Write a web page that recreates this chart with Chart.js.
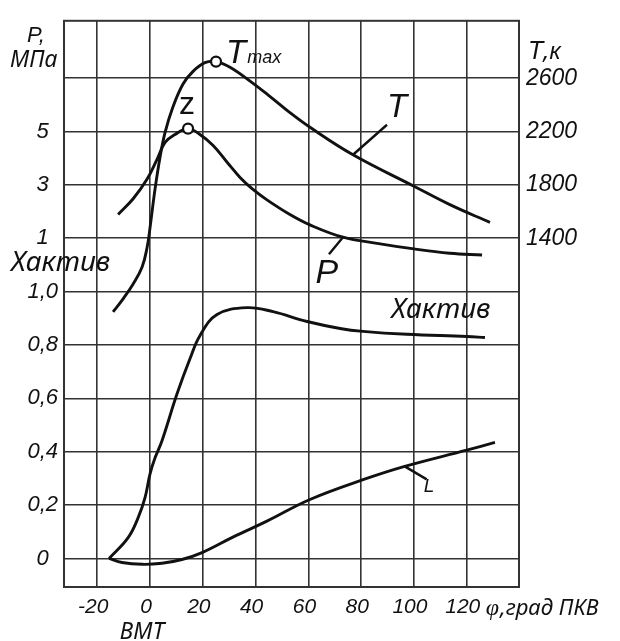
<!doctype html>
<html>

<head>
  <meta charset="utf-8">
  <title>Давление, температура и тепловыделение</title>
  <script src="https://cdn.jsdelivr.net/npm/chart.js"></script>
  <style>
    html, body { margin: 0; padding: 0; background: #fff; }
    canvas { display: block; }
  </style>
</head>

<body>
<canvas id="chart" width="620" height="641"></canvas>
<script>
    // угол поворота коленвала, град ПКВ
    const tAngle = [-14, -10.2, -6.4, -3, -1.1, 0, 1.9, 3.8, 5.7, 8.5, 12.5, 16.3, 20.8, 25, 30.3, 37.9, 45.5, 53, 60.6, 76.9, 100, 113.6, 128.8];
    const tKelvin = [849, 946, 1057, 1184, 1333, 1480, 1770, 2010, 2193, 2375, 2556, 2651, 2716, 2724, 2682, 2578, 2462, 2342, 2232, 2026, 1790, 1652, 1519];

    const pAngle = [-12.1, -6.4, -1.1, 2.65, 5.7, 9.5, 14.4, 18.9, 23.9, 29.2, 34.1, 39, 44.3, 53, 60.6, 73.1, 86, 100, 113.6, 125.8];
    const pMPa = [1.89, 2.48, 3.22, 3.96, 4.59, 4.89, 5.11, 4.89, 4.48, 3.85, 3.28, 2.83, 2.44, 1.89, 1.5, 1.04, 0.81, 0.6, 0.44, 0.37];

    const xAngle = [-15.5, -8.3, -4.5, -1.9, 0, 1.9, 4.5, 10.2, 15.2, 18.9, 25.4, 36.7, 46.6, 59.5, 72, 80.7, 97.3, 120, 126.9];
    const xFrac = [0, 0.078, 0.153, 0.228, 0.317, 0.377, 0.44, 0.616, 0.75, 0.835, 0.914, 0.94, 0.925, 0.888, 0.862, 0.851, 0.84, 0.832, 0.828];

    const lAngle = [-15.5, -10.6, -3, 4.5, 12.1, 19.7, 31.4, 44.3, 60.6, 80.7, 96.5, 120, 130.7];
    const lFrac = [0, -0.015, -0.022, -0.018, -0.004, 0.022, 0.08, 0.14, 0.221, 0.295, 0.345, 0.406, 0.435];

    const angleTicks = [-20, 0, 20, 40, 60, 80, 100, 120];
    const xaktivTicks = [0, 0.2, 0.4, 0.6, 0.8, 1.0];
    const pTicks = [1, 3, 5];
    const tTicks = [1400, 1800, 2200, 2600];

    // P и T выше доли Хактив на общей сетке: 1 МПа и 1400 К на уровне 1,2
    const xToP = x => 1 + (x - 1.2) * 10;
    const xToT = x => 1400 + (x - 1.2) * 2000;
    const tToX = t => 1.2 + (t - 1400) / 2000;

    const yMin = -0.107, yMax = 2.015;

    const ink = '#111';
    const gridColor = '#333';
    const NUM = '"Liberation Sans", Arial, sans-serif';
    const CYR = '"Noto Sans", "Open Sans", sans-serif';

    const pts = (xs, ys) => xs.map((x, i) => ({ x: x, y: ys[i] }));
    const tMaxIdx = tKelvin.indexOf(Math.max(...tKelvin));
    const pMaxIdx = pMPa.indexOf(Math.max(...pMPa));

    const curve = {
        borderColor: ink,
        borderWidth: 2.9,
        tension: 0.4,
        pointRadius: 0,
        pointBackgroundColor: '#fff',
        pointBorderColor: ink,
        pointBorderWidth: 2.2
    };

    // выноски: от точки кривой на dx, dy пикселей
    const leaders = [
        { dataset: 0, index: tAngle.indexOf(76.9), dx: 34, dy: -30 },
        { dataset: 1, index: pAngle.indexOf(73.1), dx: -14, dy: 17 },
        { dataset: 3, index: lAngle.indexOf(96.5), dx: 22, dy: 13 }
    ];

    const notes = [
        { text: 'T', x: 93.6, y: 2376, axis: 'yT', font: `italic 33px ${NUM}` },
        { text: 'P', x: 67, y: -0.33, axis: 'yP', font: `italic 34px ${NUM}` },
        { text: 'L', x: 105.7, y: 0.27, axis: 'y', font: `italic 19px ${NUM}` },
        { text: 'Хактив', x: 110.2, y: 0.93, axis: 'y', font: `italic 28px ${CYR}` }
    ];

    const frame = {
        id: 'frame',
        beforeDatasetsDraw(chart) {
            const { ctx, chartArea: a } = chart;
            ctx.save();
            ctx.strokeStyle = gridColor;
            ctx.lineWidth = 2;
            ctx.strokeRect(a.left, a.top, a.right - a.left, a.bottom - a.top);
            ctx.restore();
        }
    };

    const annotations = {
        id: 'annotations',
        afterDatasetsDraw(chart) {
            const ctx = chart.ctx;
            ctx.save();
            ctx.strokeStyle = ink;
            ctx.lineWidth = 2.4;
            leaders.forEach(l => {
                const pt = chart.getDatasetMeta(l.dataset).data[l.index];
                ctx.beginPath();
                ctx.moveTo(pt.x, pt.y);
                ctx.lineTo(pt.x + l.dx, pt.y + l.dy);
                ctx.stroke();
            });
            ctx.restore();
        },
        afterDraw(chart) {
            const { ctx, chartArea: a, scales } = chart;
            ctx.save();
            ctx.fillStyle = ink;
            ctx.textAlign = 'center';
            ctx.textBaseline = 'middle';
            notes.forEach(n => {
                ctx.font = n.font;
                ctx.fillText(n.text, scales.x.getPixelForValue(n.x), scales[n.axis].getPixelForValue(n.y));
            });

            // Tmax и z у отмеченных точек
            ctx.textBaseline = 'alphabetic';
            const tm = chart.getDatasetMeta(0).data[tMaxIdx];
            ctx.textAlign = 'left';
            ctx.font = `italic 33px ${NUM}`;
            ctx.fillText('T', tm.x + 10, tm.y + 1);
            const tw = ctx.measureText('T').width;
            ctx.font = `italic 18px ${NUM}`;
            ctx.fillText('max', tm.x + 10 + tw + 1, tm.y + 1);

            const zp = chart.getDatasetMeta(1).data[pMaxIdx];
            ctx.textAlign = 'center';
            ctx.font = `32px ${NUM}`;
            ctx.fillText('z', zp.x - 1, zp.y - 15);

            // подписи осей
            ctx.textAlign = 'left';
            ctx.font = `italic 22px ${NUM}`;
            ctx.fillText('P,', a.left - 37, a.top + 21);
            ctx.font = `italic 23px ${CYR}`;
            ctx.fillText('МПа', a.left - 54, a.top + 46);

            ctx.font = `italic 25px ${NUM}`;
            ctx.fillText('T', a.right + 9, a.top + 38);
            const tkw = ctx.measureText('T').width;
            ctx.font = `italic 23px ${CYR}`;
            ctx.fillText(',к', a.right + 9 + tkw, a.top + 38);

            ctx.font = `italic 28px ${CYR}`;
            ctx.fillText('Хактив', a.left - 53, scales.y.getPixelForValue(1.11) + 9);

            ctx.textAlign = 'center';
            ctx.font = `italic 23px ${CYR}`;
            ctx.fillText('ВМТ', scales.x.getPixelForValue(-3), a.bottom + 52);

            ctx.textAlign = 'left';
            const xl = scales.x.getPixelForValue(120) + 19;
            ctx.font = `italic 24px "Liberation Serif", serif`;
            ctx.fillText('φ', xl, a.bottom + 28);
            const fw = ctx.measureText('φ').width;
            ctx.font = `italic 22px ${CYR}`;
            ctx.fillText(',град ПКВ', xl + fw + 1, a.bottom + 28);
            ctx.restore();
        }
    };

    const tickFont = size => ({ family: NUM, size: size, style: 'italic' });

    const ctx = document.getElementById('chart').getContext('2d');
    const chart = new Chart(ctx, {
        type: 'line',
        data: {
            datasets: [
                Object.assign({}, curve, {
                    label: 'T',
                    data: pts(tAngle, tKelvin),
                    yAxisID: 'yT',
                    pointRadius: c => c.dataIndex === tMaxIdx ? 5 : 0
                }),
                Object.assign({}, curve, {
                    label: 'P',
                    data: pts(pAngle, pMPa),
                    yAxisID: 'yP',
                    pointRadius: c => c.dataIndex === pMaxIdx ? 5 : 0
                }),
                Object.assign({}, curve, {
                    label: 'Хактив',
                    data: pts(xAngle, xFrac),
                    yAxisID: 'y'
                }),
                Object.assign({}, curve, {
                    label: 'L',
                    data: pts(lAngle, lFrac),
                    yAxisID: 'y'
                })
            ]
        },
        options: {
            responsive: false,
            animation: false,
            layout: { padding: { top: 12 } },
            plugins: {
                legend: { display: false },
                tooltip: { enabled: false }
            },
            scales: {
                x: {
                    type: 'linear',
                    min: -32.6,
                    max: 139.8,
                    afterBuildTicks: s => { s.ticks = angleTicks.map(v => ({ value: v })); },
                    afterFit: s => { s.height = 54; },
                    grid: { color: gridColor, lineWidth: 1.6, drawTicks: false },
                    border: { color: gridColor, width: 2 },
                    ticks: { font: tickFont(21), color: ink, padding: 8, labelOffset: -4, callback: v => String(v) }
                },
                y: {
                    position: 'left',
                    min: yMin,
                    max: yMax,
                    // линии сетки: доли Хактив и уровни шкалы T
                    afterBuildTicks: s => {
                        s.ticks = [...xaktivTicks, ...tTicks.map(tToX)].map(v => ({ value: v }));
                    },
                    afterFit: s => { s.width = 64; },
                    grid: { color: gridColor, lineWidth: 1.6, drawTicks: false },
                    border: { color: gridColor, width: 2 },
                    ticks: {
                        font: tickFont(22),
                        color: ink,
                        padding: 6,
                        crossAlign: 'center',
                        callback: v => {
                            if (v <= 1.0001) return v === 0 ? '0' : v.toFixed(1).replace('.', ',');
                            const p = Math.round(xToP(v));
                            return pTicks.includes(p) ? String(p) : '';
                        }
                    }
                },
                yP: {
                    display: false,
                    min: xToP(yMin),
                    max: xToP(yMax)
                },
                yT: {
                    position: 'right',
                    min: xToT(yMin),
                    max: xToT(yMax),
                    afterBuildTicks: s => { s.ticks = tTicks.map(v => ({ value: v })); },
                    afterFit: s => { s.width = 101; },
                    grid: { display: false, drawTicks: false },
                    border: { color: gridColor, width: 2 },
                    ticks: { font: tickFont(23), color: ink, padding: 7, callback: v => String(v) }
                }
            }
        },
        plugins: [frame, annotations]
    });
</script>
</body>

</html>
